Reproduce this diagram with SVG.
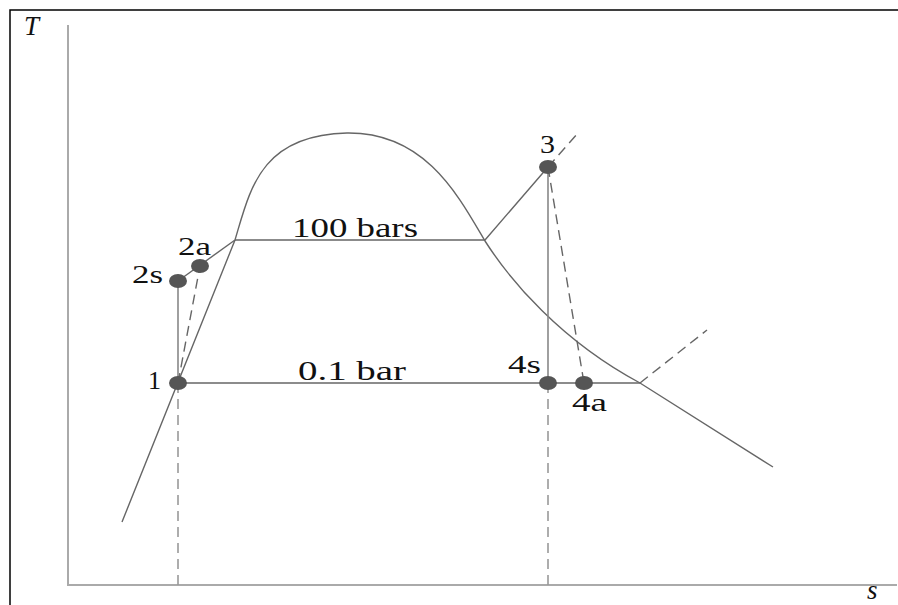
<svg xmlns="http://www.w3.org/2000/svg" width="898" height="605" viewBox="0 0 898 605">
<style>
.frame{fill:none;stroke:#000;stroke-width:1.5}
.axis{fill:none;stroke:#aaa;stroke-width:2}
.ln{fill:none;stroke:#666;stroke-width:1.4}
.pr{fill:none;stroke:#888;stroke-width:1.6}
.dash{fill:none;stroke:#666;stroke-width:1.4;stroke-dasharray:10 6}
.dashg{fill:none;stroke:#999;stroke-width:1.6;stroke-dasharray:10 6}
.pt{fill:#555}
.lbl{font-family:'Liberation Serif','Times New Roman',Tinos,serif;font-size:25px;fill:#111}
.big{font-size:27px}
.ax{font-family:'Liberation Serif','Times New Roman',Tinos,serif;font-size:27px;font-style:italic;fill:#111}
</style>
<rect width="898" height="605" fill="#fff"/>
<path class="frame" d="M10 605 V10 H898"/>
<g id="axes">
<path class="axis" d="M68 25 V585 H897"/>
<text class="ax" x="24" y="35">T</text>
<text class="ax" x="867" y="599">s</text>
</g>
<g id="connectors">
<path class="ln" d="M122 522 L235 240 C250 190 260 135 347 133 C425 132 458 195 485 241 C510 280 560 340 640 383 L773 467"/>
<path class="ln" d="M235 240 H485 L548 167"/>
<path class="dash" d="M548 167 L578 133"/>
<path class="ln" d="M178 383 H640"/>
<path class="dash" d="M640 383 L707 330"/>
<path class="pr" d="M178 383 V281"/>
<path class="ln" d="M178 281 L235 240"/>
<path class="dash" d="M178 383 L200 266"/>
<path class="pr" d="M548 167 V383"/>
<path class="dash" d="M548 167 L584 383"/>
<path class="dashg" d="M178 383 V585"/>
<path class="dashg" d="M548 383 V585"/>
</g>
<g id="label-100bars"><text class="lbl big" x="292" y="237" textLength="126" lengthAdjust="spacingAndGlyphs">100 bars</text></g>
<g id="label-01bar"><text class="lbl big" x="298" y="380" textLength="108" lengthAdjust="spacingAndGlyphs">0.1 bar</text></g>
<g id="node-1"><ellipse class="pt" cx="178" cy="383" rx="9" ry="7"/><text class="lbl" x="148" y="389" textLength="13" lengthAdjust="spacingAndGlyphs">1</text></g>
<g id="node-2s"><ellipse class="pt" cx="178" cy="281" rx="9" ry="7"/><text class="lbl" x="132" y="283" textLength="31" lengthAdjust="spacingAndGlyphs">2s</text></g>
<g id="node-2a"><ellipse class="pt" cx="200" cy="266" rx="9" ry="7"/><text class="lbl" x="178" y="255" textLength="33" lengthAdjust="spacingAndGlyphs">2a</text></g>
<g id="node-3"><ellipse class="pt" cx="548" cy="167" rx="9" ry="7"/><text class="lbl" x="540" y="153" textLength="15" lengthAdjust="spacingAndGlyphs">3</text></g>
<g id="node-4s"><ellipse class="pt" cx="548" cy="383" rx="9" ry="7"/><text class="lbl" x="508" y="373" textLength="33" lengthAdjust="spacingAndGlyphs">4s</text></g>
<g id="node-4a"><ellipse class="pt" cx="584" cy="383" rx="9" ry="7"/><text class="lbl" x="572" y="411" textLength="35" lengthAdjust="spacingAndGlyphs">4a</text></g>
</svg>
